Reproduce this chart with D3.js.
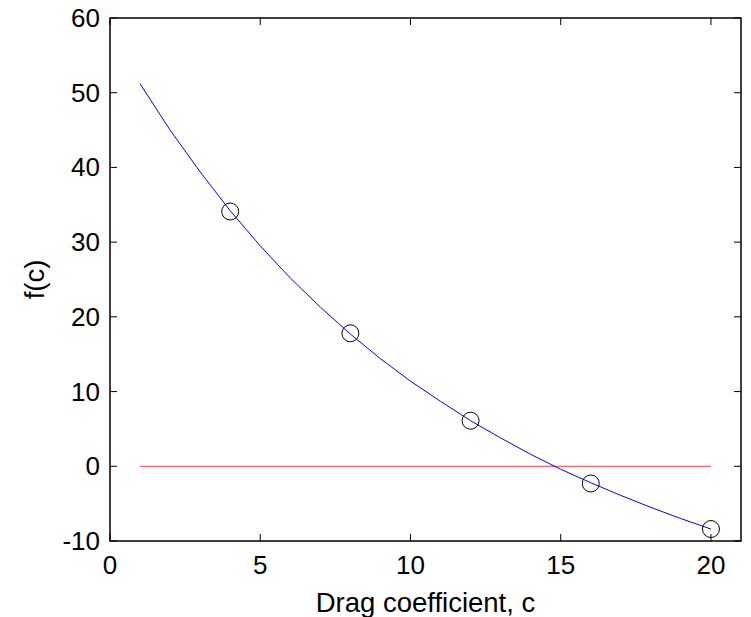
<!DOCTYPE html>
<html><head><meta charset="utf-8">
<script src="https://cdn.jsdelivr.net/npm/d3@7"></script>
<style>body{margin:0;background:#fff}svg{display:block}text{font-family:"Liberation Sans",Arial,sans-serif}</style>
</head><body><svg id="c" width="751" height="617"></svg>
<script>
const curveC = [1,2,3,4,5,6,7,8,9,10,11,12,13,14,15,16,17,18,19,20];
const curveF = [51.2,45.0,39.4,34.2,29.5,25.2,21.3,17.7,14.4,11.4,8.7,6.1,3.8,1.6,-0.4,-2.2,-3.9,-5.5,-7.0,-8.4];
const pointC = [4,8,12,16,20];
const pointF = [34.1,17.8,6.1,-2.3,-8.4];
const zeroC = [1,20];
const zeroF = [0,0];
const xTicks = [0,5,10,15,20];
const yTicks = [-10,0,10,20,30,40,50,60];

const svg = d3.select("#c");
const L=110,R=741,T=18,B=541;
const x = d3.scaleLinear().domain([0,21]).range([L,R]);
const y = d3.scaleLinear().domain([-10,60]).range([B,T]);
const tk=7, fs=26, lfs=27.5;

const g = svg.append("g");
xTicks.forEach(v=>{
  g.append("line").attr("x1",x(v)).attr("x2",x(v)).attr("y1",B).attr("y2",B-tk).attr("stroke","#000").attr("stroke-width",1);
  g.append("line").attr("x1",x(v)).attr("x2",x(v)).attr("y1",T).attr("y2",T+tk).attr("stroke","#000").attr("stroke-width",1);
  g.append("text").attr("x",x(v)).attr("y",574).attr("text-anchor","middle").attr("font-size",fs).text(v);
});
yTicks.forEach(v=>{
  g.append("line").attr("x1",L).attr("x2",L+tk).attr("y1",y(v)).attr("y2",y(v)).attr("stroke","#000").attr("stroke-width",1);
  g.append("line").attr("x1",R).attr("x2",R-tk).attr("y1",y(v)).attr("y2",y(v)).attr("stroke","#000").attr("stroke-width",1);
  g.append("text").attr("x",L-10).attr("y",y(v)+9).attr("text-anchor","end").attr("font-size",fs).text(v);
});

svg.append("rect").attr("x",L).attr("y",T).attr("width",R-L).attr("height",B-T)
  .attr("fill","none").attr("stroke","#000").attr("stroke-width",1.5);

const line = d3.line().x(d=>x(d[0])).y(d=>y(d[1]));
svg.append("path").datum(zeroC.map((c,i)=>[c,zeroF[i]])).attr("d",line)
  .attr("fill","none").attr("stroke","#ff0000").attr("stroke-width",0.8);
svg.append("path").datum(curveC.map((c,i)=>[c,curveF[i]])).attr("d",line)
  .attr("fill","none").attr("stroke","#0000ff").attr("stroke-width",1);
svg.selectAll("circle.p").data(pointC.map((c,i)=>[c,pointF[i]])).join("circle")
  .attr("cx",d=>x(d[0])).attr("cy",d=>y(d[1])).attr("r",8.5)
  .attr("fill","none").attr("stroke","#000").attr("stroke-width",1);

svg.append("text").attr("x",(L+R)/2).attr("y",612).attr("text-anchor","middle").attr("font-size",lfs).text("Drag coefficient, c");
svg.append("text").attr("transform",`translate(44,${(T+B)/2}) rotate(-90)`).attr("text-anchor","middle").attr("font-size",lfs).text("f(c)");
</script></body></html>
